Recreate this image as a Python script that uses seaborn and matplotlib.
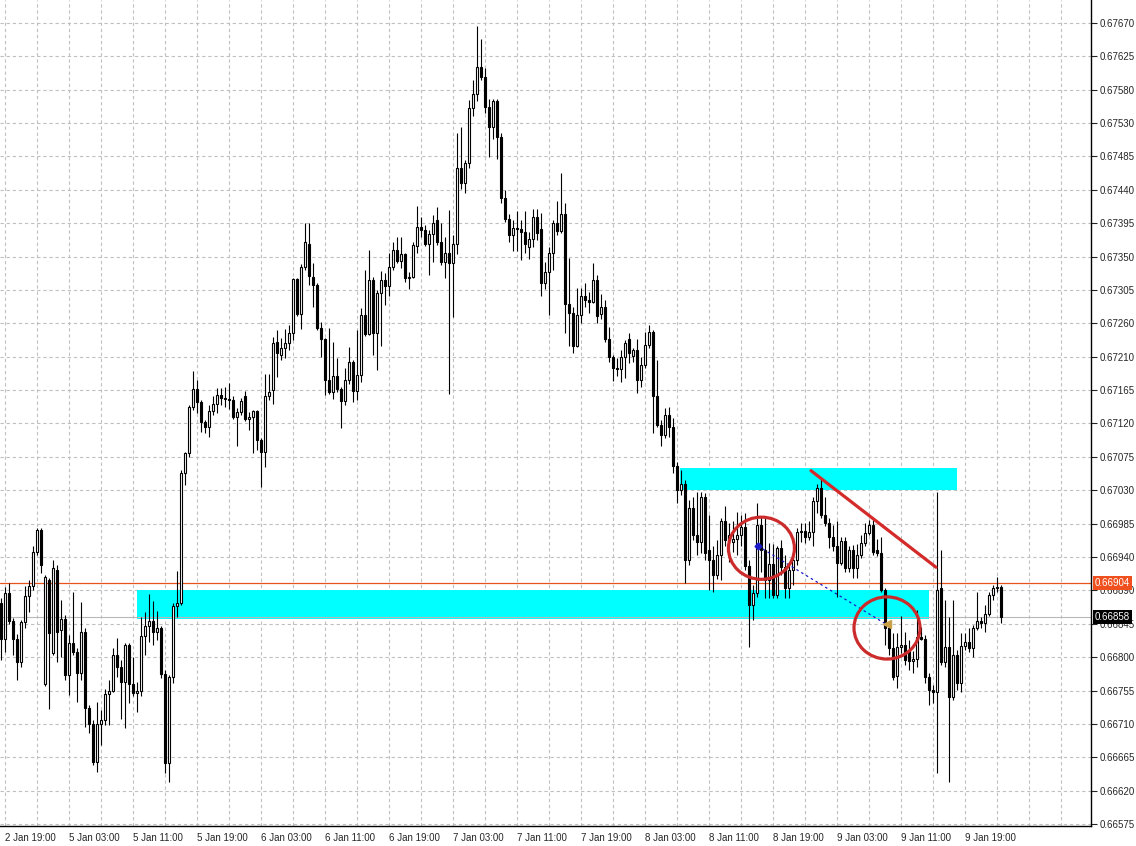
import numpy as np
import pandas as pd
import matplotlib
matplotlib.use("Agg")
import matplotlib.pyplot as plt
import matplotlib.transforms as mtransforms
from matplotlib.patches import Ellipse, Rectangle
import seaborn as sns

# 30 minute bars, 2 Jan 18:30 -> 9 Jan 23:30
opens = [
    0.66877, 0.66828, 0.66891, 0.66852, 0.66828, 0.66796, 0.66851, 0.66887, 0.66900, 0.66947,
    0.66977, 0.66766, 0.66909, 0.66809, 0.66922, 0.66840, 0.66855, 0.66779, 0.66822, 0.66810,
    0.66781, 0.66837, 0.66734, 0.66712, 0.66660, 0.66712, 0.66717, 0.66753, 0.66757, 0.66806,
    0.66790, 0.66769, 0.66820, 0.66766, 0.66754, 0.66757, 0.66832, 0.66846, 0.66852, 0.66837,
    0.66843, 0.66780, 0.66658, 0.66776, 0.66873, 0.66877, 0.67055, 0.67082, 0.67145, 0.67170,
    0.67152, 0.67125, 0.67118, 0.67140, 0.67149, 0.67161, 0.67158, 0.67156, 0.67155, 0.67131,
    0.67138, 0.67160, 0.67128, 0.67132, 0.67140, 0.67100, 0.67083, 0.67160, 0.67168, 0.67234,
    0.67216, 0.67226, 0.67233, 0.67246, 0.67320, 0.67272, 0.67336, 0.67368, 0.67323, 0.67312,
    0.67253, 0.67238, 0.67182, 0.67166, 0.67187, 0.67170, 0.67153, 0.67182, 0.67207, 0.67167,
    0.67189, 0.67271, 0.67245, 0.67319, 0.67246, 0.67301, 0.67319, 0.67310, 0.67336, 0.67359,
    0.67345, 0.67354, 0.67321, 0.67323, 0.67365, 0.67391, 0.67387, 0.67368, 0.67381, 0.67400,
    0.67371, 0.67343, 0.67355, 0.67342, 0.67368, 0.67472, 0.67451, 0.67479, 0.67554, 0.67573,
    0.67610, 0.67596, 0.67555, 0.67528, 0.67563, 0.67514, 0.67431, 0.67402, 0.67380, 0.67390,
    0.67389, 0.67384, 0.67364, 0.67375, 0.67405, 0.67388, 0.67314, 0.67330, 0.67356, 0.67397,
    0.67386, 0.67409, 0.67286, 0.67273, 0.67229, 0.67271, 0.67297, 0.67291, 0.67289, 0.67319,
    0.67272, 0.67282, 0.67238, 0.67213, 0.67199, 0.67197, 0.67213, 0.67238, 0.67215, 0.67223,
    0.67182, 0.67202, 0.67230, 0.67248, 0.67160, 0.67120, 0.67107, 0.67134, 0.67118, 0.67064,
    0.67032, 0.67040, 0.66936, 0.67007, 0.66970, 0.66961, 0.67022, 0.66950, 0.66936, 0.66915,
    0.66943, 0.66989, 0.66963, 0.66960, 0.66965, 0.66970, 0.66981, 0.66928, 0.66874, 0.66891,
    0.66984, 0.66950, 0.66909, 0.66931, 0.66888, 0.66952, 0.66926, 0.66897, 0.66922, 0.66936,
    0.66974, 0.66976, 0.66967, 0.66974, 0.67016, 0.67034, 0.66998, 0.66987, 0.66967, 0.66955,
    0.66932, 0.66962, 0.66925, 0.66950, 0.66925, 0.66943, 0.66959, 0.66973, 0.66984, 0.66950,
    0.66945, 0.66895, 0.66843, 0.66816, 0.66778, 0.66817, 0.66820, 0.66812, 0.66798, 0.66800,
    0.66830, 0.66828, 0.66776, 0.66758, 0.66755, 0.66897, 0.66796, 0.66817, 0.66748, 0.66806,
    0.66768, 0.66819, 0.66824, 0.66816, 0.66843, 0.66852, 0.66850, 0.66862, 0.66888, 0.66897,
    0.66899,
]
highs = [
    0.66884, 0.66899, 0.66905, 0.66857, 0.66835, 0.66854, 0.66900, 0.66909, 0.66955, 0.66980,
    0.66980, 0.66915, 0.66911, 0.66936, 0.66929, 0.66881, 0.66861, 0.66833, 0.66892, 0.66816,
    0.66878, 0.66843, 0.66738, 0.66717, 0.66742, 0.66731, 0.66759, 0.66772, 0.66816, 0.66829,
    0.66799, 0.66822, 0.66822, 0.66803, 0.66769, 0.66858, 0.66865, 0.66890, 0.66880, 0.66866,
    0.66846, 0.66785, 0.66779, 0.66877, 0.66921, 0.67059, 0.67083, 0.67148, 0.67194, 0.67182,
    0.67155, 0.67127, 0.67148, 0.67160, 0.67171, 0.67171, 0.67172, 0.67178, 0.67160, 0.67144,
    0.67157, 0.67167, 0.67138, 0.67141, 0.67141, 0.67103, 0.67190, 0.67190, 0.67241, 0.67250,
    0.67240, 0.67252, 0.67257, 0.67322, 0.67322, 0.67341, 0.67397, 0.67397, 0.67342, 0.67315,
    0.67261, 0.67240, 0.67253, 0.67234, 0.67212, 0.67172, 0.67198, 0.67227, 0.67209, 0.67250,
    0.67281, 0.67332, 0.67360, 0.67323, 0.67305, 0.67331, 0.67328, 0.67356, 0.67370, 0.67377,
    0.67377, 0.67356, 0.67330, 0.67370, 0.67420, 0.67405, 0.67394, 0.67387, 0.67408, 0.67418,
    0.67397, 0.67377, 0.67414, 0.67380, 0.67520, 0.67528, 0.67483, 0.67565, 0.67592, 0.67666,
    0.67648, 0.67608, 0.67566, 0.67566, 0.67566, 0.67520, 0.67442, 0.67409, 0.67401, 0.67413,
    0.67401, 0.67413, 0.67384, 0.67416, 0.67416, 0.67410, 0.67343, 0.67364, 0.67400, 0.67427,
    0.67465, 0.67424, 0.67349, 0.67282, 0.67308, 0.67308, 0.67314, 0.67302, 0.67342, 0.67326,
    0.67299, 0.67291, 0.67255, 0.67216, 0.67212, 0.67223, 0.67237, 0.67246, 0.67226, 0.67238,
    0.67213, 0.67248, 0.67257, 0.67250, 0.67209, 0.67127, 0.67144, 0.67145, 0.67130, 0.67070,
    0.67059, 0.67045, 0.67018, 0.67022, 0.67029, 0.67029, 0.67028, 0.66998, 0.66955, 0.66963,
    0.66994, 0.67010, 0.66986, 0.66989, 0.67002, 0.66998, 0.67000, 0.66936, 0.66902, 0.67014,
    0.66995, 0.66995, 0.66959, 0.66958, 0.66955, 0.66963, 0.66943, 0.66933, 0.66940, 0.66980,
    0.66986, 0.66986, 0.66989, 0.67022, 0.67040, 0.67048, 0.67022, 0.66994, 0.66984, 0.66989,
    0.66967, 0.66967, 0.66955, 0.66957, 0.66958, 0.66970, 0.66986, 0.66991, 0.66991, 0.66965,
    0.66967, 0.66898, 0.66846, 0.66836, 0.66836, 0.66859, 0.66837, 0.66826, 0.66812, 0.66868,
    0.66845, 0.66833, 0.66782, 0.66765, 0.67029, 0.66949, 0.66881, 0.66858, 0.66881, 0.66813,
    0.66836, 0.66836, 0.66843, 0.66847, 0.66892, 0.66858, 0.66874, 0.66892, 0.66902, 0.66913,
    0.66902,
]
lows = [
    0.66799, 0.66810, 0.66848, 0.66806, 0.66772, 0.66790, 0.66843, 0.66865, 0.66895, 0.66943,
    0.66918, 0.66764, 0.66732, 0.66806, 0.66796, 0.66803, 0.66772, 0.66751, 0.66806, 0.66742,
    0.66772, 0.66708, 0.66699, 0.66656, 0.66646, 0.66683, 0.66710, 0.66710, 0.66755, 0.66776,
    0.66719, 0.66706, 0.66740, 0.66750, 0.66728, 0.66750, 0.66806, 0.66824, 0.66820, 0.66826,
    0.66775, 0.66645, 0.66632, 0.66768, 0.66858, 0.66874, 0.67038, 0.67077, 0.67141, 0.67137,
    0.67111, 0.67109, 0.67104, 0.67134, 0.67137, 0.67148, 0.67145, 0.67143, 0.67129, 0.67092,
    0.67134, 0.67126, 0.67114, 0.67082, 0.67086, 0.67036, 0.67063, 0.67155, 0.67149, 0.67186,
    0.67209, 0.67212, 0.67223, 0.67237, 0.67269, 0.67252, 0.67332, 0.67312, 0.67282, 0.67250,
    0.67213, 0.67161, 0.67163, 0.67156, 0.67166, 0.67116, 0.67148, 0.67176, 0.67152, 0.67155,
    0.67179, 0.67242, 0.67243, 0.67216, 0.67196, 0.67228, 0.67285, 0.67297, 0.67332, 0.67342,
    0.67335, 0.67316, 0.67306, 0.67321, 0.67355, 0.67377, 0.67365, 0.67326, 0.67343, 0.67367,
    0.67339, 0.67321, 0.67163, 0.67268, 0.67354, 0.67443, 0.67437, 0.67472, 0.67543, 0.67563,
    0.67592, 0.67547, 0.67487, 0.67511, 0.67484, 0.67424, 0.67398, 0.67370, 0.67358, 0.67358,
    0.67346, 0.67356, 0.67348, 0.67364, 0.67374, 0.67297, 0.67307, 0.67271, 0.67332, 0.67380,
    0.67383, 0.67246, 0.67229, 0.67219, 0.67227, 0.67260, 0.67282, 0.67273, 0.67287, 0.67260,
    0.67266, 0.67234, 0.67207, 0.67180, 0.67187, 0.67179, 0.67185, 0.67205, 0.67207, 0.67164,
    0.67172, 0.67198, 0.67226, 0.67109, 0.67118, 0.67092, 0.67103, 0.67104, 0.67055, 0.67014,
    0.67025, 0.66905, 0.66929, 0.66963, 0.66943, 0.66946, 0.66936, 0.66895, 0.66892, 0.66910,
    0.66908, 0.66955, 0.66933, 0.66947, 0.66943, 0.66955, 0.66922, 0.66817, 0.66854, 0.66885,
    0.66920, 0.66884, 0.66884, 0.66884, 0.66884, 0.66915, 0.66884, 0.66884, 0.66902, 0.66929,
    0.66961, 0.66959, 0.66963, 0.66955, 0.67000, 0.66994, 0.66983, 0.66952, 0.66948, 0.66885,
    0.66929, 0.66920, 0.66920, 0.66911, 0.66911, 0.66939, 0.66955, 0.66970, 0.66943, 0.66941,
    0.66892, 0.66820, 0.66806, 0.66772, 0.66761, 0.66809, 0.66792, 0.66785, 0.66781, 0.66790,
    0.66826, 0.66768, 0.66738, 0.66741, 0.66645, 0.66792, 0.66790, 0.66632, 0.66744, 0.66758,
    0.66755, 0.66813, 0.66810, 0.66803, 0.66840, 0.66843, 0.66837, 0.66860, 0.66881, 0.66892,
    0.66850,
]
closes = [
    0.66828, 0.66891, 0.66852, 0.66828, 0.66796, 0.66851, 0.66887, 0.66900, 0.66947, 0.66977,
    0.66929, 0.66913, 0.66836, 0.66925, 0.66837, 0.66855, 0.66779, 0.66822, 0.66810, 0.66781,
    0.66837, 0.66734, 0.66712, 0.66660, 0.66712, 0.66717, 0.66753, 0.66757, 0.66806, 0.66790,
    0.66769, 0.66820, 0.66766, 0.66754, 0.66757, 0.66832, 0.66846, 0.66852, 0.66837, 0.66843,
    0.66780, 0.66658, 0.66776, 0.66873, 0.66877, 0.67055, 0.67082, 0.67145, 0.67170, 0.67152,
    0.67125, 0.67118, 0.67140, 0.67149, 0.67161, 0.67158, 0.67156, 0.67155, 0.67131, 0.67138,
    0.67153, 0.67128, 0.67132, 0.67140, 0.67100, 0.67083, 0.67160, 0.67166, 0.67233, 0.67219,
    0.67226, 0.67233, 0.67246, 0.67320, 0.67272, 0.67336, 0.67371, 0.67324, 0.67312, 0.67253,
    0.67238, 0.67182, 0.67166, 0.67187, 0.67170, 0.67153, 0.67182, 0.67207, 0.67167, 0.67189,
    0.67271, 0.67245, 0.67319, 0.67246, 0.67301, 0.67319, 0.67310, 0.67336, 0.67359, 0.67345,
    0.67354, 0.67321, 0.67323, 0.67367, 0.67391, 0.67387, 0.67368, 0.67381, 0.67397, 0.67371,
    0.67343, 0.67355, 0.67342, 0.67368, 0.67472, 0.67451, 0.67479, 0.67554, 0.67573, 0.67610,
    0.67596, 0.67555, 0.67528, 0.67563, 0.67514, 0.67431, 0.67402, 0.67380, 0.67390, 0.67389,
    0.67384, 0.67368, 0.67375, 0.67405, 0.67383, 0.67314, 0.67330, 0.67356, 0.67397, 0.67386,
    0.67409, 0.67286, 0.67273, 0.67229, 0.67271, 0.67297, 0.67291, 0.67289, 0.67319, 0.67269,
    0.67282, 0.67238, 0.67213, 0.67198, 0.67197, 0.67213, 0.67233, 0.67219, 0.67223, 0.67182,
    0.67202, 0.67230, 0.67248, 0.67160, 0.67120, 0.67107, 0.67134, 0.67118, 0.67064, 0.67032,
    0.67040, 0.66936, 0.67007, 0.66970, 0.66961, 0.67022, 0.66946, 0.66936, 0.66915, 0.66943,
    0.66989, 0.66963, 0.66970, 0.66965, 0.66970, 0.66981, 0.66928, 0.66874, 0.66891, 0.66984,
    0.66950, 0.66909, 0.66931, 0.66888, 0.66952, 0.66926, 0.66897, 0.66922, 0.66936, 0.66974,
    0.66976, 0.66967, 0.66974, 0.67016, 0.67034, 0.66998, 0.66987, 0.66967, 0.66955, 0.66932,
    0.66962, 0.66925, 0.66950, 0.66925, 0.66943, 0.66959, 0.66973, 0.66984, 0.66947, 0.66945,
    0.66895, 0.66843, 0.66816, 0.66776, 0.66817, 0.66820, 0.66799, 0.66798, 0.66800, 0.66830,
    0.66828, 0.66776, 0.66758, 0.66755, 0.66895, 0.66796, 0.66817, 0.66748, 0.66806, 0.66768,
    0.66819, 0.66824, 0.66816, 0.66843, 0.66852, 0.66850, 0.66862, 0.66888, 0.66897, 0.66899,
    0.66858,
]

time_labels = ["2 Jan 19:00", "5 Jan 03:00", "5 Jan 11:00", "5 Jan 19:00", "6 Jan 03:00",
               "6 Jan 11:00", "6 Jan 19:00", "7 Jan 03:00", "7 Jan 11:00", "7 Jan 19:00",
               "8 Jan 03:00", "8 Jan 11:00", "8 Jan 19:00", "9 Jan 03:00", "9 Jan 11:00",
               "9 Jan 19:00"]
price_labels = ["0.66575", "0.66620", "0.66665", "0.66710", "0.66755", "0.66800", "0.66845",
                "0.66890", "0.66940", "0.66985", "0.67030", "0.67075", "0.67120", "0.67165",
                "0.67210", "0.67260", "0.67305", "0.67350", "0.67395", "0.67440", "0.67485",
                "0.67530", "0.67580", "0.67625", "0.67670"]

# drawn objects (bar index, price)
zone_start = [169.75, 34]
zone_end = [239, 232]
zone_low = [0.67032, 0.66855]
zone_high = [0.67062, 0.66895]
trend_x = [202.5, 233.75]
trend_y = [0.67058, 0.66926]
link_x = [189.25, 221]
link_y = [0.66955, 0.66849]
circle_x = [190.1, 221.5]
circle_y = [0.66952, 0.66843]
level_line = 0.66904
last_price = 0.66858

df = pd.DataFrame({"open": opens, "high": highs, "low": lows, "close": closes})
df["bar"] = np.arange(len(df))
up = df["close"] >= df["open"]
body_lo = np.minimum(df["open"], df["close"])
body_h = np.maximum((df["close"] - df["open"]).abs(), 0.000004)

sns.set_style("white")
plt.rcParams["font.family"] = ["Liberation Sans", "DejaVu Sans"]

fig = plt.figure(figsize=(11.36, 8.46), dpi=100)
ax = fig.add_axes([0, 20 / 846, 1091 / 1136, 826 / 846])

for x0, x1, lo, hi in zip(zone_start, zone_end, zone_low, zone_high):
    ax.add_patch(Rectangle((x0, lo), x1 - x0, hi - lo, facecolor="#00ffff", lw=0, zorder=1))

ax.axhline(level_line, color="#e8541c", lw=0.9, zorder=2)
ax.axhline(last_price, color="#b8b8b8", lw=0.8, zorder=2)

# candles
ax.vlines(df["bar"], df["low"], df["high"], color="black", lw=0.8, zorder=3)
ax.bar(df["bar"][up], body_h[up], bottom=body_lo[up], width=0.5,
       color="white", edgecolor="black", lw=0.8, zorder=4)
ax.bar(df["bar"][~up], body_h[~up], bottom=body_lo[~up], width=0.5,
       color="black", edgecolor="black", lw=0.8, zorder=4)

# annotations
sns.lineplot(x=trend_x, y=trend_y, ax=ax, color="#d42a2a", lw=2.3, zorder=6)
sns.lineplot(x=link_x, y=link_y, ax=ax, color="#1a1ac8", lw=0.9, linestyle=(0, (2, 2.5)), zorder=6)
ax.plot(link_x[0], link_y[0], marker="D", ms=3.5, color="#1a1ac8", zorder=7)
ax.plot(link_x[1] + 0.5, link_y[1], marker="<", ms=6, color="#c8a048", zorder=7)
for cx, cy in zip(circle_x, circle_y):
    ax.add_patch(Ellipse((cx, cy), 16.5, 0.00085, fill=False, ec="#cc2b2b", lw=2.3, zorder=6))

ax.set_xlim(-0.25, 272.5)
ax.set_ylim(0.665723, 0.677014)

major_x = np.arange(1, 1 + 16 * len(time_labels), 16)
minor_x = [i for i in range(1, 273, 8) if i not in major_x]
ax.set_xticks(major_x)
ax.set_xticklabels(time_labels)
ax.set_xticks(minor_x, minor=True)
for lbl in ax.get_xticklabels():
    lbl.set_ha("left")

ax.yaxis.tick_right()
ax.set_yticks(np.linspace(0.66575, 0.67670, len(price_labels)))
ax.set_yticklabels(price_labels)

ax.tick_params(axis="x", which="major", length=4, width=0.8, pad=1, labelsize=7, direction="out")
ax.tick_params(axis="x", which="minor", length=0)
ax.tick_params(axis="y", which="major", length=4, width=0.8, pad=2, labelsize=7, direction="out")
ax.grid(True, which="both", color="#c0c0c0", lw=0.8, linestyle=(0, (3, 2.5)))
ax.set_axisbelow(True)

for side in ["left", "top"]:
    ax.spines[side].set_visible(False)
for side in ["right", "bottom"]:
    ax.spines[side].set_color("black")
    ax.spines[side].set_linewidth(1.0)

trans = mtransforms.blended_transform_factory(ax.transAxes, ax.transData)
ax.text(1.0035, level_line, f"{level_line:.5f}", transform=trans, color="white", fontsize=7,
        va="center", ha="left", zorder=10, clip_on=False,
        bbox=dict(boxstyle="square,pad=0.2", fc="#f0501e", ec="none"))
ax.text(1.0035, last_price, f"{last_price:.5f}", transform=trans, color="white", fontsize=7,
        va="center", ha="left", zorder=10, clip_on=False,
        bbox=dict(boxstyle="square,pad=0.2", fc="black", ec="none"))

fig.savefig("out.png", dpi=100, facecolor="white")
